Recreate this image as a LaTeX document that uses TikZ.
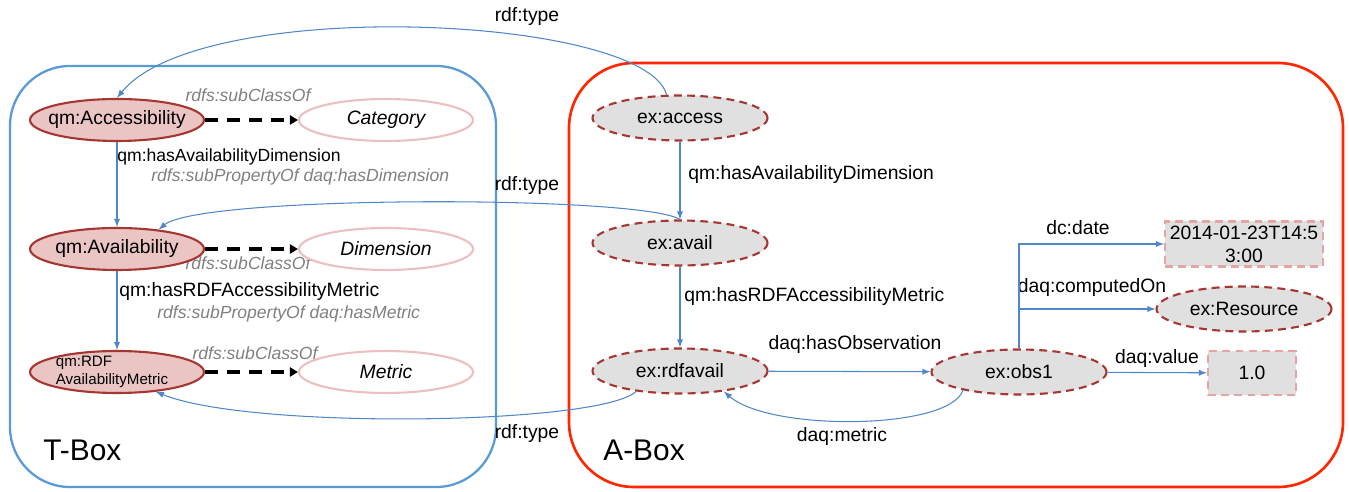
\documentclass[tikz,border=0pt]{standalone}
\usepackage{fontspec}
\setmainfont{Liberation Sans}
\usepackage{tikz}
\usetikzlibrary{arrows,arrows.meta,shapes.geometric}
\newcommand\ndfont{\fontsize{11}{13}\selectfont}
\newcommand\ntfont{\fontsize{10}{12}\selectfont}
\newcommand\smfont{\fontsize{8.6}{10}\selectfont}
\newcommand\bigfont{\fontsize{17}{20}\selectfont}
\definecolor{tbox_blue}{RGB}{91,155,213}
\definecolor{abox_red}{RGB}{255,38,0}
\definecolor{edge_blue}{RGB}{80,135,200}
\definecolor{cls_fill}{RGB}{235,196,196}
\definecolor{cls_edge}{RGB}{165,55,50}
\definecolor{gen_edge}{RGB}{236,192,192}
\definecolor{ind_fill}{RGB}{224,224,224}
\definecolor{lit_edge}{RGB}{230,165,165}
\definecolor{note_gray}{RGB}{128,128,128}

\begin{document}
\begin{tikzpicture}[->,>=latex,x=0.02cm,y=-0.02cm]
    \tikzstyle{cls}=[draw=cls_edge, ellipse, line width=1.2pt, fill=cls_fill, minimum width=3.48cm, minimum height=0.84cm, inner sep=0pt]
    \tikzstyle{gen}=[style=cls, draw=gen_edge, fill=white]
    \tikzstyle{ind}=[style=cls, fill=ind_fill, dash pattern=on 4.5pt off 3pt, minimum width=3.5cm, minimum height=0.9cm]
    \tikzstyle{lit}=[rectangle, draw=lit_edge, fill=ind_fill, line width=1.2pt, dash pattern=on 4.5pt off 3pt, inner sep=0pt]
    \tikzstyle{txt}=[font=\ndfont, inner sep=0pt, text=black]
    \tikzstyle{lbl}=[font=\ndfont, inner sep=0pt, text=black]
    \tikzstyle{note}=[font=\ntfont\itshape, inner sep=0pt, text=note_gray]
    \tikzstyle{link}=[edge_blue, line width=0.6pt]
    \tikzstyle{subcl}=[black, line width=2pt, dash pattern=on 0.25cm off 0.19cm, -{Triangle[length=4.6pt,width=5.2pt]}]

    \useasboundingbox (0,0) rectangle (1349,492);
    \draw[-, tbox_blue, line width=1.3pt, rounded corners=1.2cm] (10,66) rectangle (496,487);
    \draw[-, abox_red, line width=1.5pt, rounded corners=1.3cm] (569,63) rectangle (1343,487);
    \node[txt, font=\bigfont, anchor=west] (tlab) at (43,450) {T-Box};
    \node[txt, font=\bigfont, anchor=west] (alab) at (603,450) {A-Box};

    % T-Box
    \node[note] (sc1) at (248,95)  {rdfs:subClassOf};
    \node[note] (sc2) at (248,263) {rdfs:subClassOf};
    \node[note] (sc3) at (255,353) {rdfs:subClassOf};
    \node[note, anchor=west] (sp1) at (151,177) {rdfs:subPropertyOf daq:hasDimension};
    \node[note, anchor=west] (sp2) at (157,314) {rdfs:subPropertyOf daq:hasMetric};
    \node[lbl, font=\ntfont, anchor=west] (l_had) at (117,157) {qm:hasAvailabilityDimension};
    \node[lbl, anchor=west] (l_ham) at (119,292) {qm:hasRDFAccessibilityMetric};

    \node[cls] (acc)  at (117,120) {};  \node[txt] (acc_t) at (acc) {qm:Accessibility};
    \node[gen] (cat)  at (386,120) {};  \node[txt, font=\ndfont\itshape] (cat_t) at (cat) {Category};
    \node[cls] (avl)  at (117,249) {};  \node[txt] (avl_t) at (avl) {qm:Availability};
    \node[gen] (dim)  at (386,249) {};  \node[txt, font=\ndfont\itshape] (dim_t) at (dim) {Dimension};
    \node[cls] (rdfm) at (117,372) {};  \node[txt, font=\smfont, align=left] (rdfm_t) at (112,372) {qm:RDF\\AvailabilityMetric};
    \node[gen] (met)  at (386,372) {};  \node[txt, font=\ndfont\itshape] (met_t) at (met) {Metric};

    % A-Box
    \node[ind] (access) at (680,118) {};  \node[txt] (access_t) at (access) {ex:access};
    \node[ind] (avail)  at (680,243) {};  \node[txt] (avail_t) at (avail) {ex:avail};
    \node[ind] (rdfa)   at (680,371) {};  \node[txt] (rdfa_t) at (rdfa) {ex:rdfavail};
    \node[ind] (obs)    at (1019,372) {}; \node[txt] (obs_t) at (obs) {ex:obs1};
    \node[ind] (res)    at (1244,309) {}; \node[txt] (res_t) at (res) {ex:Resource};
    \node[lit, minimum width=3.16cm, minimum height=0.9cm] (date) at (1244,244) {};
    \node[txt, align=center] (date_t) at (date) {2014-01-23T14:5\\3:00};
    \node[lit, minimum width=1.76cm, minimum height=0.88cm] (val) at (1252,373) {};
    \node[txt] (val_t) at (val) {1.0};

    \node[lbl, anchor=west] (l_had2) at (688,175) {qm:hasAvailabilityDimension};
    \node[lbl, anchor=west] (l_ham2) at (684,297) {qm:hasRDFAccessibilityMetric};
    \node[lbl] (l_obs)  at (855,345)  {daq:hasObservation};
    \node[lbl] (l_met)  at (842,437)  {daq:metric};
    \node[lbl] (l_ty1)  at (527,17)   {rdf:type};
    \node[lbl] (l_ty2)  at (527,186)  {rdf:type};
    \node[lbl] (l_ty3)  at (527,434)  {rdf:type};
    \node[lbl] (l_date) at (1078,228) {dc:date};
    \node[lbl] (l_comp) at (1092,288) {daq:computedOn};
    \node[lbl] (l_val)  at (1157,359) {daq:value};

    \path[link]
     (acc)    edge (avl)
     (avl)    edge (rdfm)
     (access) edge (avail)
     (avail)  edge (rdfa)
     (rdfa)   edge (obs)
     (obs)    edge (val)
     ;
    \draw[link] (obs) |- (date);
    \draw[link] (obs.north |- res) -- (res);
    \draw[link] (access.120) .. controls (645,15) and (200,-5) .. (acc.north);
    \draw[link] (avail.north) .. controls (640,195) and (200,195) .. (avl.25);
    \draw[link] (rdfa.205) .. controls (600,425) and (250,430) .. (rdfm.333);
    \draw[link] (obs.198) .. controls (950,430) and (770,432) .. (rdfa.335);
    \path[subcl]
     (acc)  edge (cat)
     (avl)  edge (dim)
     (rdfm) edge (met)
     ;
\end{tikzpicture}
\end{document}
